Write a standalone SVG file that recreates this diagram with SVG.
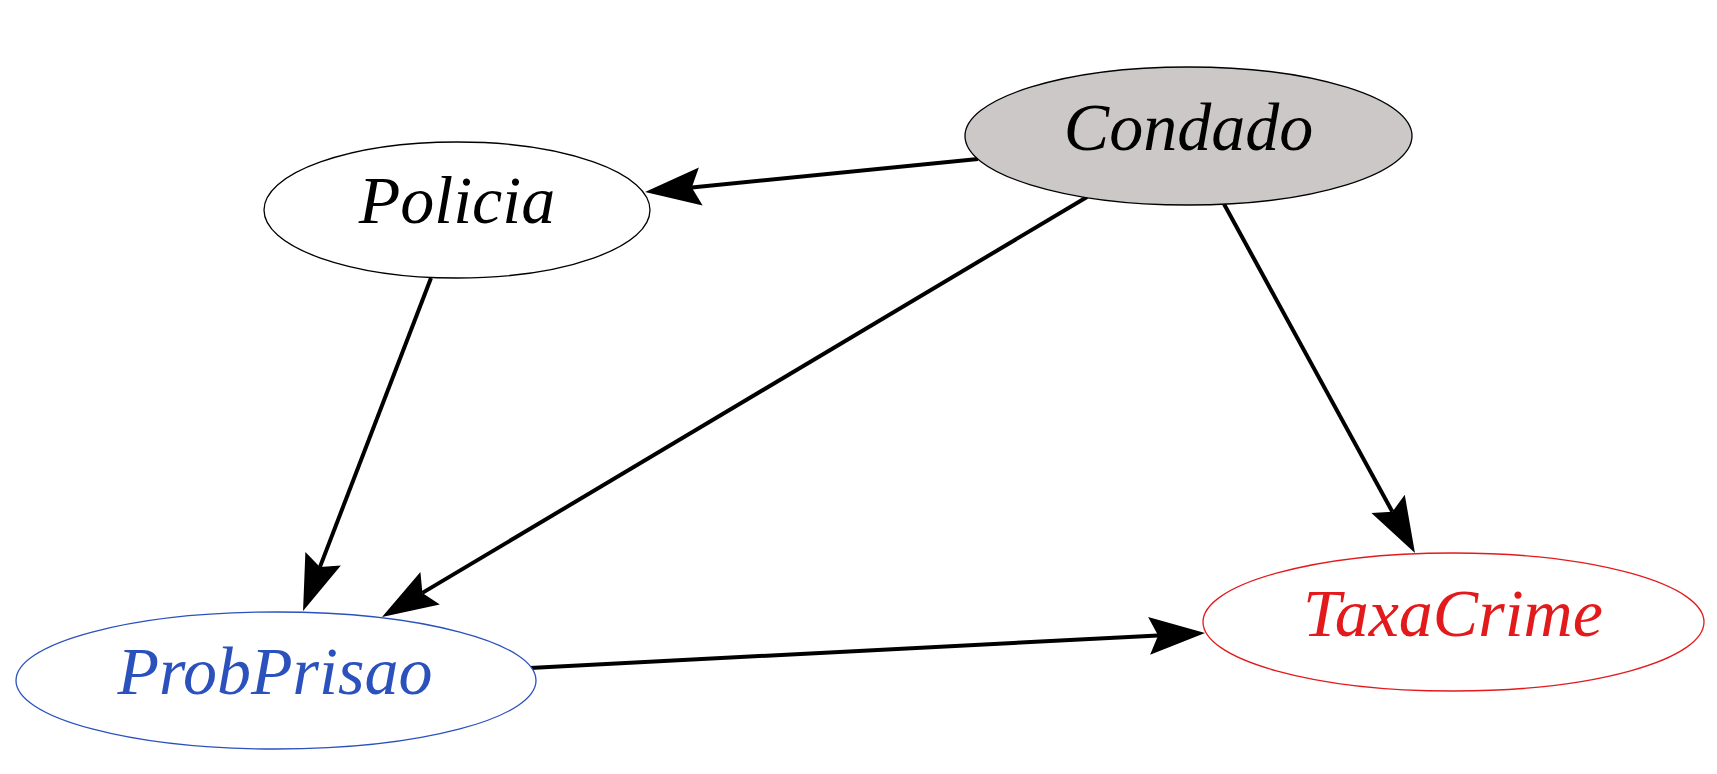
<svg xmlns="http://www.w3.org/2000/svg" width="1717" height="774" viewBox="0 0 1717 774">
<style>
.lbl{font-family:"Liberation Serif","Times New Roman",Times,serif;font-style:italic;font-size:68px;text-anchor:middle}
.edge{stroke:#000;stroke-width:4;fill:none}
</style>
<defs>
<marker id="arr" markerUnits="userSpaceOnUse" viewBox="-12 -22 62 44" refX="0" refY="0" markerWidth="62" markerHeight="44" orient="auto">
<path d="M47,0 L-9,-19 L0,0 L-9,19 Z" fill="#000"/>
</marker>
</defs>
<rect width="1717" height="774" fill="#fff"/>
<g id="connectors">
<line class="edge" x1="978" y1="159" x2="691.8" y2="187.4" marker-end="url(#arr)"/>
<line class="edge" x1="1087" y1="197" x2="422.4" y2="592.9" marker-end="url(#arr)"/>
<line class="edge" x1="1224" y1="204" x2="1392.4" y2="511.8" marker-end="url(#arr)"/>
<line class="edge" x1="431" y1="278" x2="319.9" y2="567.1" marker-end="url(#arr)"/>
<line class="edge" x1="530" y1="668" x2="1158.1" y2="635.4" marker-end="url(#arr)"/>
</g>
<g id="Condado">
<ellipse cx="1188.5" cy="136" rx="223.5" ry="69" fill="#cbc8c7" stroke="#000" stroke-width="1.3"/>
<text class="lbl" x="1188.5" y="150" fill="#000">Condado</text>
</g>
<g id="Policia">
<ellipse cx="457" cy="210" rx="193" ry="68" fill="#fff" stroke="#000" stroke-width="1.3"/>
<text class="lbl" x="457" y="223" fill="#000">Policia</text>
</g>
<g id="ProbPrisao">
<ellipse cx="276" cy="680.5" rx="260" ry="68.5" fill="#fff" stroke="#2b52bc" stroke-width="1.3"/>
<text class="lbl" x="275" y="694" fill="#2b52bc">ProbPrisao</text>
</g>
<g id="TaxaCrime">
<ellipse cx="1453.5" cy="622" rx="250.5" ry="69" fill="#fff" stroke="#e31a1c" stroke-width="1.3"/>
<text class="lbl" x="1453" y="636" fill="#e31a1c">TaxaCrime</text>
</g>
</svg>
